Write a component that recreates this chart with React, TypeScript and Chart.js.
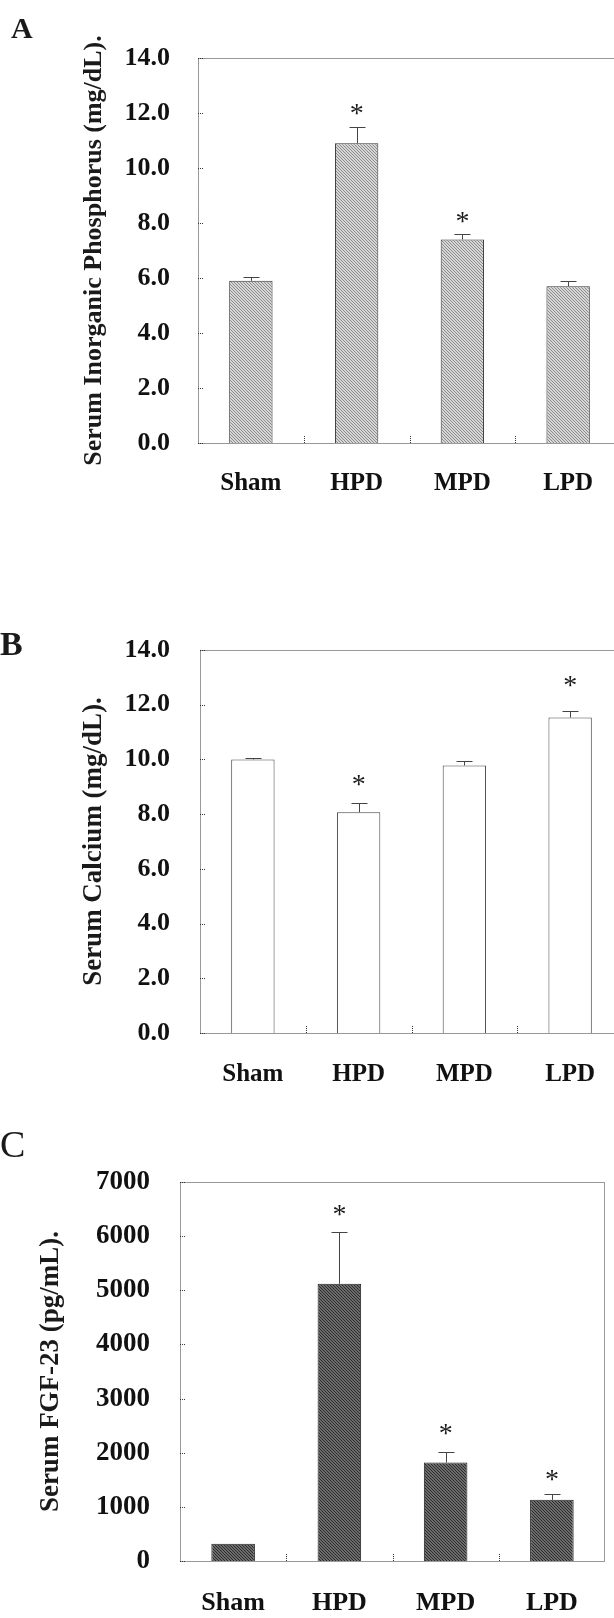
import React, { useEffect, useRef } from "react";
import { Chart, registerables } from "chart.js";

Chart.register(...registerables);

const categories = ["Sham", "HPD", "MPD", "LPD"];

const phosphorusMean = [5.9, 10.9, 7.4, 5.7];
const phosphorusErr = [0.15, 0.6, 0.2, 0.2];
const phosphorusStar: (number | null)[] = [null, 12.2, 8.3, null];
const phosphorusTicks = [0, 2, 4, 6, 8, 10, 12, 14];

const calciumMean = [10.0, 8.07, 9.78, 11.53];
const calciumErr = [0.07, 0.35, 0.16, 0.23];
const calciumStar: (number | null)[] = [null, 9.33, null, 12.94];
const calciumTicks = [0, 2, 4, 6, 8, 10, 12, 14];

const fgfMean = [320, 5120, 1820, 1130];
const fgfErr = [0, 950, 190, 110];
const fgfStar: (number | null)[] = [null, 6520, 2475, 1625];
const fgfTicks = [0, 1000, 2000, 3000, 4000, 5000, 6000, 7000];

const SERIF = "'Liberation Serif', 'Times New Roman', serif";

const framePlugin = {
  id: "frameErr",
  beforeDatasetsDraw(chart: any, _a: any, opts: any) {
    const { ctx, chartArea } = chart;
    const { left, right, top, bottom } = chartArea;
    ctx.save();
    ctx.strokeStyle = opts.frameColor || "#333";
    ctx.lineWidth = 1;
    ctx.setLineDash([1, 1]);
    ctx.beginPath();
    ctx.moveTo(left + 0.5, bottom + 0.5);
    ctx.lineTo(left + 0.5, top + 0.5);
    ctx.lineTo(right - 0.5, top + 0.5);
    ctx.lineTo(right - 0.5, bottom + 0.5);
    ctx.lineTo(left + 0.5, bottom + 0.5);
    ctx.stroke();
    const ys = chart.scales.y;
    ctx.beginPath();
    ys.ticks.forEach((t: any) => {
      const py = Math.round(ys.getPixelForValue(t.value)) + 0.5;
      ctx.moveTo(left, py);
      ctx.lineTo(left + 6, py);
    });
    const xs = chart.scales.x;
    const n = chart.data.labels.length;
    for (let i = 1; i < n; i++) {
      const px = Math.round((xs.getPixelForValue(i - 1) + xs.getPixelForValue(i)) / 2) + 0.5;
      ctx.moveTo(px, bottom);
      ctx.lineTo(px, bottom - 8);
    }
    ctx.stroke();
    ctx.restore();
  },
  afterDatasetsDraw(chart: any, _a: any, opts: any) {
    const { ctx } = chart;
    const ys = chart.scales.y;
    const meta = chart.getDatasetMeta(0);
    const means: number[] = chart.data.datasets[0].data;
    const errs: number[] = opts.err || [];
    const stars: (number | null)[] = opts.stars || [];
    ctx.save();
    ctx.strokeStyle = opts.errColor || "#444";
    ctx.lineWidth = 1;
    meta.data.forEach((bar: any, i: number) => {
      const e = errs[i];
      const x = Math.round(bar.x) + 0.5;
      if (e && e > 0) {
        const y0 = ys.getPixelForValue(means[i]);
        const y1 = Math.round(ys.getPixelForValue(means[i] + e)) + 0.5;
        ctx.beginPath();
        ctx.moveTo(x, y0);
        ctx.lineTo(x, y1);
        ctx.moveTo(x - 8, y1);
        ctx.lineTo(x + 8, y1);
        ctx.stroke();
      }
      const s = stars[i];
      if (s !== null && s !== undefined) {
        const fs = opts.starSize || 28;
        ctx.fillStyle = "#1a1a1a";
        ctx.font = `${fs}px ${SERIF}`;
        ctx.textAlign = "center";
        ctx.textBaseline = "alphabetic";
        ctx.fillText("*", bar.x, ys.getPixelForValue(s) + 0.53 * fs);
      }
    });
    ctx.restore();
  },
};

function makeHatch(ctx: CanvasRenderingContext2D, bg: string, fg: string) {
  const c = document.createElement("canvas");
  c.width = 3;
  c.height = 3;
  const x = c.getContext("2d")!;
  x.fillStyle = bg;
  x.fillRect(0, 0, 3, 3);
  x.fillStyle = fg;
  for (let i = 0; i < 3; i++) x.fillRect(i, i, 1, 1);
  return ctx.createPattern(c, "repeat");
}

type PanelProps = {
  top: number;
  width: number;
  height: number;
  padTop: number;
  padRight: number;
  padBottom: number;
  yWidth: number;
  xHeight: number;
  means: number[];
  errs: number[];
  stars: (number | null)[];
  ticks: number[];
  decimals: number;
  title: string;
  titleSize: number;
  titlePad: number;
  tickSize: number;
  tickPad: number;
  xLabelSize: number;
  xLabelPad: number;
  fill: "light" | "white" | "dark";
  barBorder: string;
};

function Panel(p: PanelProps) {
  const ref = useRef<HTMLCanvasElement | null>(null);
  useEffect(() => {
    const canvas = ref.current!;
    const ctx = canvas.getContext("2d")!;
    let bg: any = "#ffffff";
    if (p.fill === "light") bg = makeHatch(ctx, "#d6d6d6", "#8c8c8c");
    if (p.fill === "dark") bg = makeHatch(ctx, "#6c6c6c", "#2c2c2c");
    const chart = new Chart(canvas, {
      type: "bar",
      data: {
        labels: categories,
        datasets: [
          {
            data: p.means,
            backgroundColor: bg,
            borderColor: p.barBorder,
            borderWidth: 1,
            barPercentage: 0.41,
            categoryPercentage: 1,
          },
        ],
      },
      options: {
        responsive: false,
        animation: false,
        devicePixelRatio: 1,
        layout: { padding: { top: p.padTop, left: 0, right: p.padRight, bottom: p.padBottom } },
        plugins: {
          legend: { display: false },
          tooltip: { enabled: false },
          frameErr: { err: p.errs, stars: p.stars, frameColor: "#333", errColor: "#444" },
        } as any,
        scales: {
          x: {
            grid: { display: false, drawTicks: false },
            border: { display: false },
            ticks: {
              color: "#111",
              padding: p.xLabelPad,
              font: { family: SERIF, size: p.xLabelSize, weight: "bold", lineHeight: 1 },
            },
            afterFit: (s: any) => {
              s.height = p.xHeight;
            },
          },
          y: {
            min: p.ticks[0],
            max: p.ticks[p.ticks.length - 1],
            afterBuildTicks: (s: any) => {
              s.ticks = p.ticks.map((v) => ({ value: v }));
            },
            grid: { display: false, drawTicks: false },
            border: { display: false },
            ticks: {
              color: "#111",
              padding: p.tickPad,
              font: { family: SERIF, size: p.tickSize, weight: "bold", lineHeight: 1 },
              callback: (v: any) => Number(v).toFixed(p.decimals),
            },
            title: {
              display: true,
              text: p.title,
              color: "#1a1a1a",
              font: { family: SERIF, size: p.titleSize, weight: "bold", lineHeight: 1 },
              padding: { top: p.titlePad, bottom: 0 },
            },
            afterFit: (s: any) => {
              s.width = p.yWidth;
            },
          },
        },
      },
      plugins: [framePlugin as any],
    });
    return () => chart.destroy();
  }, []);
  return (
    <canvas
      ref={ref}
      width={p.width}
      height={p.height}
      style={{ position: "absolute", left: 0, top: p.top, width: p.width, height: p.height, display: "block" }}
    />
  );
}

const labelStyle = (left: number, top: number, size: number, weight: string): React.CSSProperties => ({
  position: "absolute",
  left,
  top,
  fontFamily: SERIF,
  fontSize: size,
  fontWeight: weight as any,
  lineHeight: 1,
  color: "#1a1a1a",
});

export default function App() {
  return (
    <div
      style={{
        position: "absolute",
        left: 0,
        top: 0,
        width: 614,
        height: 1618,
        overflow: "hidden",
        background: "#fff",
      }}
    >
      <Panel
        top={0}
        width={640}
        height={520}
        padTop={58}
        padRight={19}
        padBottom={17}
        yWidth={198}
        xHeight={60}
        means={phosphorusMean}
        errs={phosphorusErr}
        stars={phosphorusStar}
        ticks={phosphorusTicks}
        decimals={1}
        title="Serum Inorganic Phosphorus (mg/dL)."
        titleSize={26}
        titlePad={81}
        tickSize={26}
        tickPad={28}
        xLabelSize={25}
        xLabelPad={28.5}
        fill="light"
        barBorder="#333"
      />
      <Panel
        top={590}
        width={640}
        height={520}
        padTop={60}
        padRight={17}
        padBottom={17}
        yWidth={200}
        xHeight={60}
        means={calciumMean}
        errs={calciumErr}
        stars={calciumStar}
        ticks={calciumTicks}
        decimals={1}
        title="Serum Calcium (mg/dL)."
        titleSize={27}
        titlePad={80.5}
        tickSize={26}
        tickPad={30}
        xLabelSize={25}
        xLabelPad={29.5}
        fill="white"
        barBorder="#444"
      />
      <Panel
        top={1120}
        width={614}
        height={498}
        padTop={62}
        padRight={9}
        padBottom={0}
        yWidth={180}
        xHeight={57}
        means={fgfMean}
        errs={fgfErr}
        stars={fgfStar}
        ticks={fgfTicks}
        decimals={0}
        title="Serum FGF-23 (pg/mL)."
        titleSize={27}
        titlePad={37.5}
        tickSize={27}
        tickPad={30}
        xLabelSize={26}
        xLabelPad={29.5}
        fill="dark"
        barBorder="#222"
      />
      <div style={labelStyle(11, 13, 30, "bold")}>A</div>
      <div style={labelStyle(0, 627, 34, "bold")}>B</div>
      <div style={labelStyle(0, 1125, 38, "normal")}>C</div>
    </div>
  );
}
